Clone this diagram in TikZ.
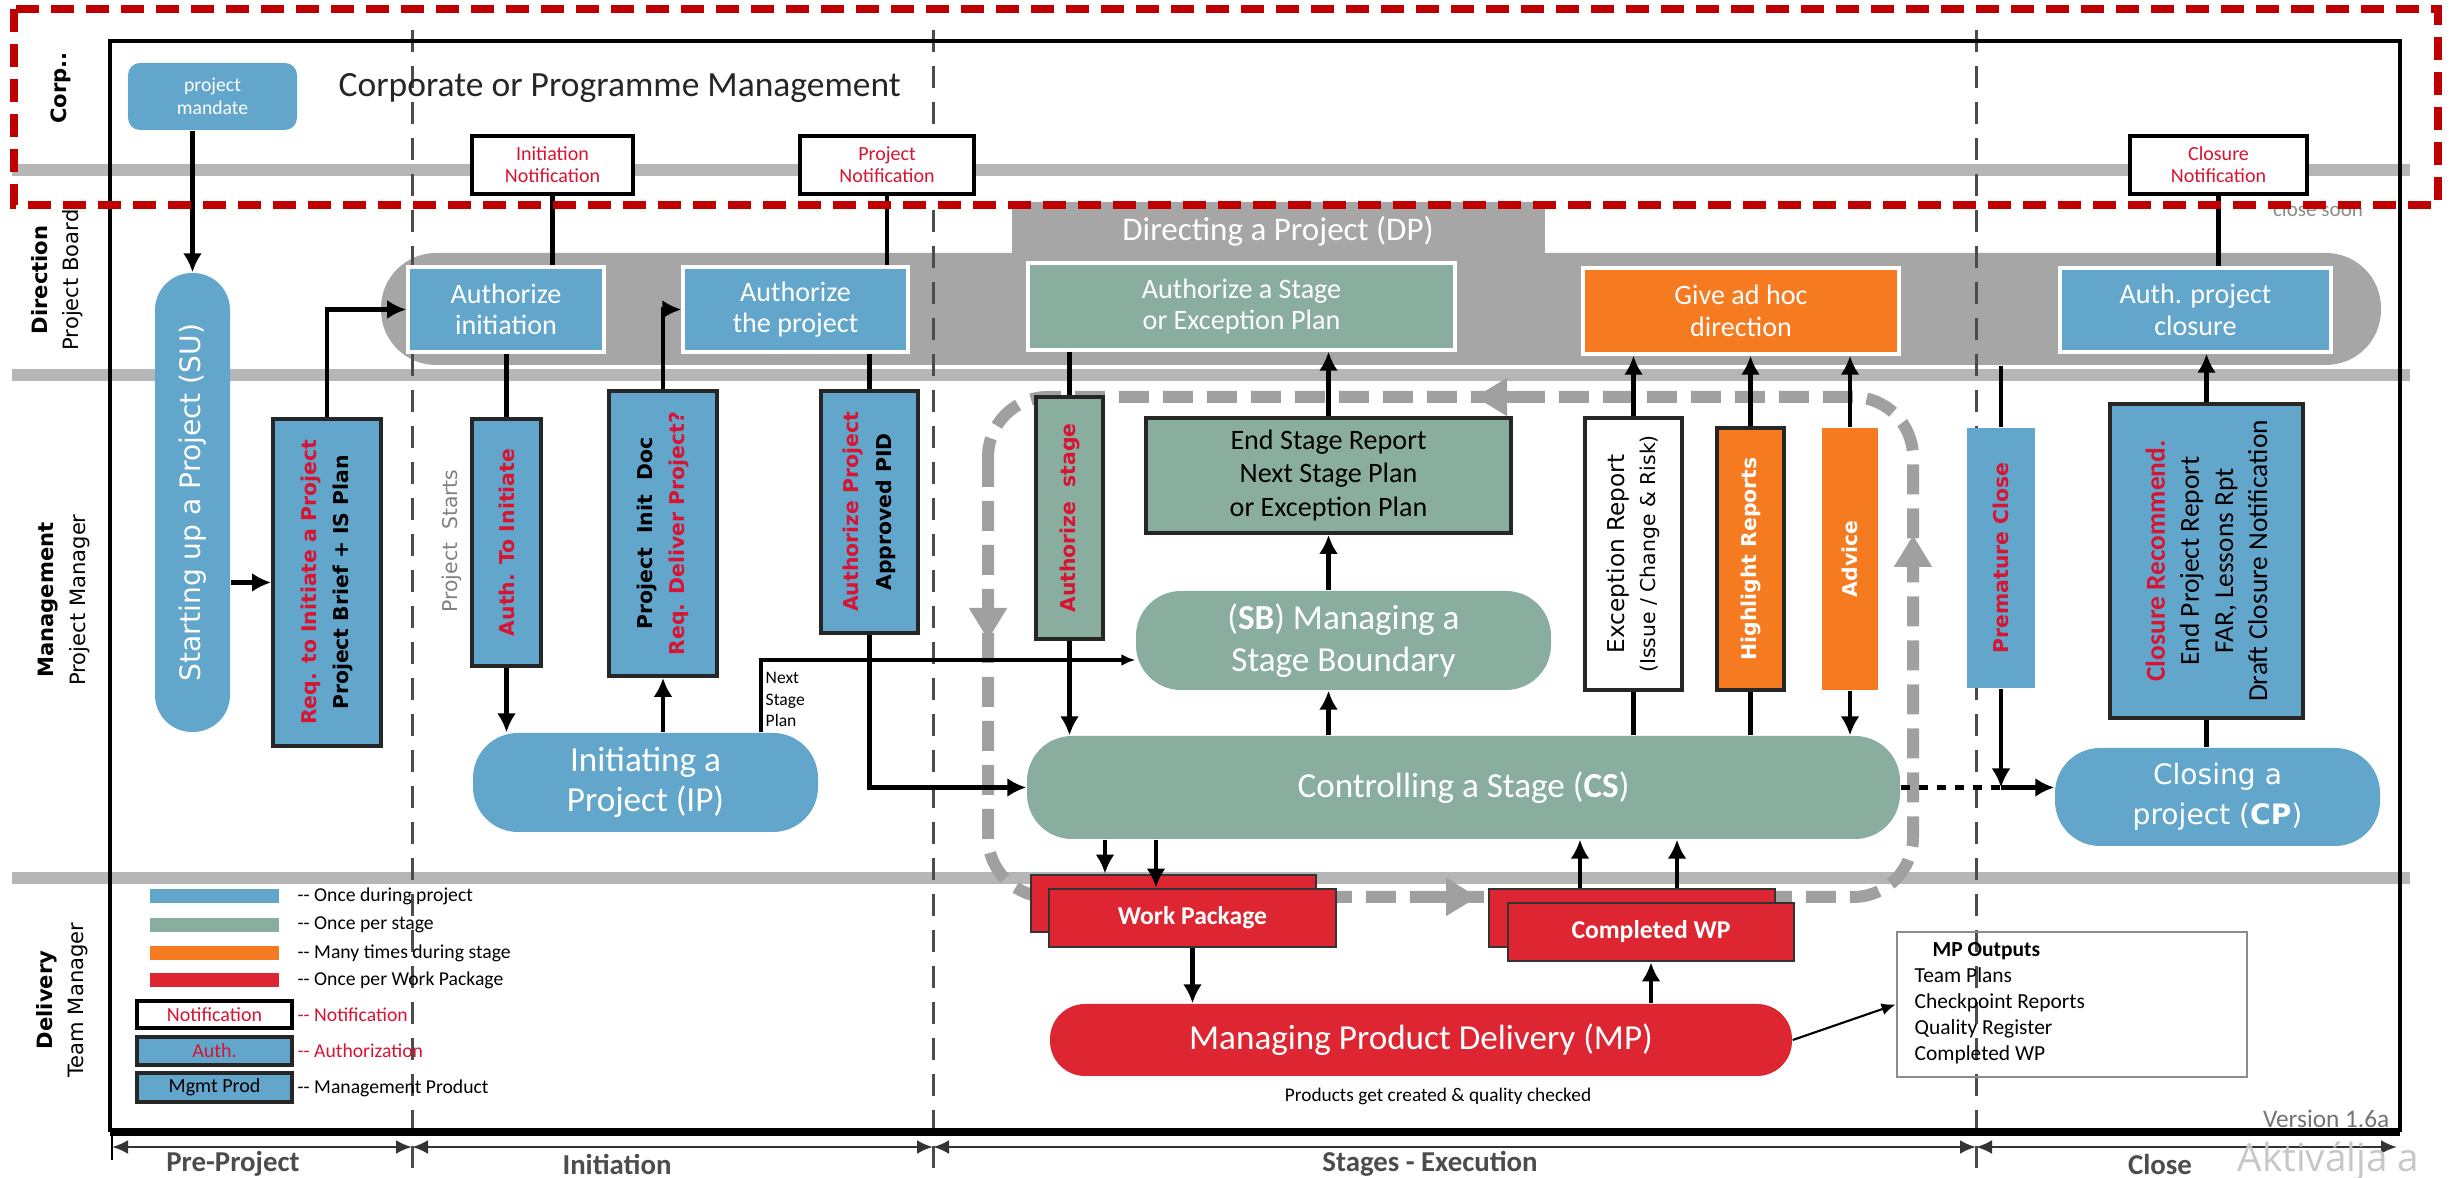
\documentclass[tikz,border=0pt]{standalone}
\usepackage{fontspec}
\setmainfont{Carlito}
\newfontfamily\verd{DejaVu Sans}
\newfontfamily\wmfont{Open Sans}
\usetikzlibrary{fit,arrows.meta}

\definecolor{pblue}{RGB}{98,166,204}
\definecolor{pgreen}{RGB}{137,174,160}
\definecolor{porange}{RGB}{245,122,32}
\definecolor{pred}{RGB}{222,38,50}
\definecolor{ptext}{RGB}{215,20,50}
\definecolor{pband}{RGB}{182,182,182}
\definecolor{pdp}{RGB}{166,166,166}
\definecolor{pframe}{RGB}{192,0,0}
\definecolor{ploop}{RGB}{160,160,160}

\tikzset{
  every node/.append style={inner sep=0pt},
  box/.style={draw=black!85, line width=1.1pt},
  dpbox/.style={draw=white, line width=1pt},
  notebox/.style={draw=black, line width=1pt, fill=white},
  pill/.style={rounded corners=4.5mm},
  wpbox/.style={fill=pred, draw=black!80, line width=0.8pt},
  dptext/.style={text=white, align=center, font=\fontsize{8}{9}\selectfont},
  notetext/.style={text=ptext, align=center, font=\fontsize{5.7}{6.3}\selectfont},
  pilltext/.style={text=white, align=center, font=\fontsize{10}{11.2}\selectfont},
  wptext/.style={text=white, font=\bfseries\fontsize{7.3}{8}\selectfont},
  vtext/.style={rotate=90, align=center, font=\verd\bfseries\fontsize{5.8}{9.3}\selectfont},
  flow/.style={line width=1.4pt, -{Latex[length=1.9mm,width=1.9mm]}},
  thinflow/.style={line width=0.6pt, -{Latex[length=1.4mm,width=1.2mm]}},
  link/.style={line width=1.4pt},
  lane/.style={pband, line width=1.2mm},
  phase/.style={black!70, line width=0.3mm, dash pattern=on 2.2mm off 1.4mm},
  loopline/.style={ploop, line width=1.2mm, dash pattern=on 3mm off 1.4mm},
  looptip/.style={ploop, line width=1.2mm, -{Triangle[length=3.2mm,width=3.6mm]}},
  dimline/.style={black!80, line width=0.8pt, {Latex[length=1.6mm,width=1.4mm]}-{Latex[length=1.6mm,width=1.4mm]}},
  lanelabel/.style={rotate=90, align=center, font=\verd\fontsize{6}{9}\selectfont},
  legtext/.style={anchor=west, font=\fontsize{5.6}{6.5}\selectfont},
  phaselabel/.style={text=black!70, font=\bfseries\fontsize{8.2}{9}\selectfont},
}

\begin{document}
\begin{tikzpicture}[x=0.1mm, y=-0.1mm]

	\useasboundingbox (0,0) rectangle (2451,1178);
	\clip (0,0) rectangle (2451,1178);

	% swimlanes and phases
	\node[text=black!45, font=\fontsize{6}{7}\selectfont] (soon) at (2318,209) {close soon};
	\foreach \y in {170,375,878} \draw[lane] (12,\y) -- (2410,\y);

	\node[fill=pdp, rounded corners=5.5mm, fit={(381,253) (2381,365)}] (dp) {};
	\node[fill=pdp, fit={(1012,202) (1545,262)}] (dptab) {};
	\node[text=white, font=\fontsize{9.4}{11}\selectfont] (dptitle) at (1278,231) {Directing a Project (DP)};

	\foreach \x in {412,933,1976} \draw[phase] (\x,30) -- (\x,1168);
	\draw[line width=1.2pt] (110,1132) -- (110,41) -- (2400,41) -- (2400,1132);
	\draw[line width=2pt] (110,1132) -- (2400,1132);

	% stage loop
	\draw[loopline, rounded corners=6mm] (988,397) rectangle (1913,897);
	\draw[looptip] (988,595) -- (988,640);
	\draw[looptip] (1520,397) -- (1475,397);
	\draw[looptip] (1913,580) -- (1913,535);
	\draw[looptip] (1430,897) -- (1478,897);

	% corporate
	\node[fill=pblue, rounded corners=1.2mm, fit={(128,63) (297,130)}] (mandate) {};
	\node[text=white, align=center, font=\fontsize{5.6}{6.5}\selectfont] (mandatetxt) at (mandate.center) {project\\mandate};
	\node[anchor=west, text=black!85, font=\fontsize{10.1}{12}\selectfont] (corp) at (338,88) {Corporate or Programme Management};
	\node[notebox, fit={(472,136) (633,194)}] (inot) {};
	\node[notetext] (inottxt) at (inot.center) {Initiation\\Notification};
	\node[notebox, fit={(800,136) (974,194)}] (pnot) {};
	\node[notetext] (pnottxt) at (pnot.center) {Project\\Notification};
	\node[notebox, fit={(2130,136) (2307,194)}] (cnot) {};
	\node[notetext] (cnottxt) at (cnot.center) {Closure\\Notification};

	% direction
	\node[dpbox, fill=pblue, fit={(408,267) (604,352)}] (authinit) {};
	\node[dptext] (authinittxt) at (authinit.center) {Authorize\\initiation};
	\node[dpbox, fill=pblue, fit={(683,267) (908,352)}] (authproj) {};
	\node[dptext] (authprojtxt) at (authproj.center) {Authorize\\the project};
	\node[dpbox, fill=pgreen, fit={(1028,263) (1455,350)}] (authstage) {};
	\node[dptext] (authstagetxt) at (authstage.center) {Authorize a Stage\\or Exception Plan};
	\node[dpbox, fill=porange, fit={(1583,268) (1899,354)}] (adhoc) {};
	\node[dptext] (adhoctxt) at (adhoc.center) {Give ad hoc\\direction};
	\node[dpbox, fill=pblue, fit={(2060,268) (2331,352)}] (authclose) {};
	\node[dptext] (authclosetxt) at (authclose.center) {Auth. project\\closure};

	% management
	\node[fill=pblue, rounded corners=3.7mm, fit={(155,273) (230,732)}] (su) {};
	\node[rotate=90, text=white, font=\verd\fontsize{8}{9}\selectfont] (sutxt) at (su.center) {Starting up a Project (SU)};
	\node[box, fill=pblue, fit={(273,419) (381,746)}] (req) {};
	\node[vtext] (reqtxt) at (req.center) {\textcolor{ptext}{Req. to Initiate a Project}\\Project Brief + IS Plan};
	\node[rotate=90, text=black!50, font=\verd\fontsize{5.8}{7}\selectfont] (starts) at (452,541) {Project~~Starts};
	\node[box, fill=pblue, fit={(472,419) (541,666)}] (ati) {};
	\node[vtext, text=ptext] (atitxt) at (ati.center) {Auth. To Initiate};
	\node[box, fill=pblue, fit={(609,391) (717,676)}] (initdoc) {};
	\node[vtext] (initdoctxt) at (initdoc.center) {Project~~Init~~Doc\\\textcolor{ptext}{Req. Deliver Project?}};
	\node[box, fill=pblue, fit={(821,391) (918,633)}] (apid) {};
	\node[vtext] (apidtxt) at (apid.center) {\textcolor{ptext}{Authorize Project}\\Approved PID};
	\node[pill, fill=pblue, fit={(473,733) (818,832)}] (ip) {};
	\node[pilltext] (iptxt) at (ip.center) {Initiating a\\Project (IP)};
	\node[anchor=north west, align=left, font=\fontsize{5}{6}\selectfont] (nsptxt) at (765,672) {Next\\Stage\\Plan};

	\node[box, fill=pgreen, fit={(1036,397) (1103,639)}] (astg) {};
	\node[vtext, text=ptext] (astgtxt) at (astg.center) {Authorize~~stage};
	\node[box, fill=pgreen, fit={(1146,418) (1511,533)}] (esr) {};
	\node[align=center, font=\fontsize{8}{9.4}\selectfont] (esrtxt) at (esr.center) {End Stage Report\\Next Stage Plan\\or Exception Plan};
	\node[pill, fill=pgreen, fit={(1136,591) (1551,690)}] (sb) {};
	\node[pilltext, font=\fontsize{10}{11.8}\selectfont] (sbtxt) at (sb.center) {(\textbf{SB}) Managing a\\Stage Boundary};
	\node[pill, fill=pgreen, fit={(1027,736) (1900,839)}] (cs) {};
	\node[pilltext] (cstxt) at (cs.center) {Controlling a Stage (\textbf{CS})};
	\node[box, fill=white, fit={(1585,418) (1682,690)}] (exc) {};
	\node[rotate=90, align=center, font=\verd\fontsize{6.6}{8.9}\selectfont] (exctxt) at (exc.center) {Exception Report\\{\fontsize{5.8}{8.9}\selectfont(Issue / Change \& Risk)}};
	\node[box, fill=porange, fit={(1717,428) (1784,690)}] (hlr) {};
	\node[vtext, text=white] (hlrtxt) at (hlr.center) {Highlight Reports};
	\node[fill=porange, fit={(1822,428) (1878,690)}] (adv) {};
	\node[vtext, text=white] (advtxt) at (adv.center) {Advice};

	\node[fill=pblue, fit={(1967,428) (2035,688)}] (prem) {};
	\node[vtext, text=ptext] (premtxt) at (prem.center) {Premature Close};
	\node[box, fill=pblue, fit={(2110,404) (2303,718)}] (clo) {};
	\node[rotate=90, align=center, font=\fontsize{7.8}{9.7}\selectfont] (clotxt) at (clo.center) {\textcolor{ptext}{\textbf{Closure Recommend.}}\\End Project Report\\FAR, Lessons Rpt\\Draft Closure Notification};
	\node[pill, fill=pblue, fit={(2055,748) (2380,846)}] (cp) {};
	\node[pilltext, font=\verd\fontsize{8}{11.5}\selectfont] (cptxt) at (cp.center) {Closing a\\project (\textbf{CP})};

	% delivery
	\node[wpbox, fit={(1031,875) (1316,932)}] (wpb) {};
	\node[wpbox, fit={(1049,889) (1336,947)}] (wp) {};
	\node[wptext] (wptxt) at (wp.center) {Work Package};
	\node[wpbox, fit={(1489,889) (1775,947)}] (cwpb) {};
	\node[wpbox, fit={(1508,903) (1794,961)}] (cwp) {};
	\node[wptext] (cwptxt) at (cwp.center) {Completed WP};
	\node[pill, fill=pred, rounded corners=3.5mm, fit={(1050,1004) (1792,1076)}] (mp) {};
	\node[pilltext] (mptxt) at (mp.center) {Managing Product Delivery (MP)};
	\node[font=\fontsize{5.5}{6.5}\selectfont] (mpnote) at (1438,1096) {Products get created \& quality checked};
	\node[draw=black!45, line width=0.8pt, fit={(1897,932) (2247,1077)}] (mpout) {};
	\node[anchor=north west, align=left, font=\fontsize{6.1}{7.4}\selectfont] (mpouttxt) at (1914,942) {\hspace*{1.8mm}\textbf{MP Outputs}\\Team Plans\\Checkpoint Reports\\Quality Register\\Completed WP};

	% connectors
	\draw[flow] (su.north |- mandate.south) -- (su.north);
	\draw[flow] (su.east |- req.west) -- (req.west);
	\draw[flow] (req.north) |- (authinit.west);
	\draw[link] (inot.south) -- (inot.south |- authinit.north);
	\draw[link] (pnot.south) -- (pnot.south |- authproj.north);
	\draw[link] (authinit.south -| ati.north) -- (ati.north);
	\draw[flow] (ati.south) -- (ati.south |- ip.north);
	\draw[flow] (initdoc.south |- ip.north) -- (initdoc.south);
	\draw[flow] (initdoc.north) |- (authproj.west);
	\draw[link] (authproj.south -| apid.north) -- (apid.north);
	\draw[flow] (apid.south) |- (cs.west);
	\coordinate (nsp) at (761,660);
	\draw[thinflow, line width=0.9pt] (nsp |- ip.north) -- (nsp) -- (nsp -| sb.west);

	\draw[link] (authstage.south -| astg.north) -- (astg.north);
	\draw[flow] (astg.south) -- (astg.south |- cs.north);
	\draw[flow] (esr.north) -- (esr.north |- authstage.south);
	\draw[flow] (esr.south |- sb.north) -- (esr.south);
	\draw[flow] (esr.south |- cs.north) -- (esr.south |- sb.south);
	\draw[flow] (exc.north) -- (exc.north |- adhoc.south);
	\draw[link] (exc.south |- cs.north) -- (exc.south);
	\draw[flow] (hlr.north) -- (hlr.north |- adhoc.south);
	\draw[link] (hlr.south |- cs.north) -- (hlr.south);
	\draw[flow] (adv.north) -- (adv.north |- adhoc.south);
	\draw[flow] (adv.south) -- (adv.south |- cs.north);

	\draw[link] (prem.north |- dp.south) -- (prem.north);
	\coordinate (pj) at (prem.south |- cs.east);
	\draw[flow] (prem.south) -- (pj);
	\draw[line width=1.4pt, dash pattern=on 0.9mm off 0.9mm] (cs.east) -- (pj);
	\draw[flow] (pj) -- (pj -| cp.west);
	\draw[flow] (clo.north) -- (clo.north |- authclose.south);
	\draw[link] (clo.south |- cp.north) -- (clo.south);
	\draw[link] (cnot.south) -- (cnot.south |- authclose.north);

	\coordinate (wa) at (1105,0);
	\coordinate (wb) at (1156,0);
	\coordinate (ca) at (1580,0);
	\coordinate (cb) at (1677,0);
	\draw[flow] (cs.south -| wa) -- (wpb.north -| wa);
	\draw[flow] (cs.south -| wb) -- (wp.north -| wb);
	\draw[flow] (cwpb.north -| ca) -- (cs.south -| ca);
	\draw[flow] (cwpb.north -| cb) -- (cs.south -| cb);
	\draw[flow] (wp.south) -- (wp.south |- mp.north);
	\draw[flow] (cwp.south |- mp.north) -- (cwp.south);
	\draw[thinflow] (mp.east) -- (mpout.west);

	% legend
	\foreach \c/\y/\t [count=\i] in {pblue/896/Once during project, pgreen/925/Once per stage, porange/953/Many times during stage, pred/980/Once per Work Package} {
		\fill[\c] (150,\y-7) rectangle (279,\y+7);
		\node[legtext] (leg\i) at (297,\y) {-{}- \t};
	}
	\node[notebox, fit={(137,1001) (292,1028)}] (lnot) {};
	\node[notetext] (lnottxt) at (lnot.center) {Notification};
	\node[legtext, text=ptext] (lnott) at (297,1015) {-{}- Notification};
	\node[box, fill=pblue, fit={(137,1037) (292,1065)}] (lauth) {};
	\node[notetext] (lauthtxt) at (lauth.center) {Auth.};
	\node[legtext, text=ptext] (lautht) at (297,1051) {-{}- Authorization};
	\node[box, fill=pblue, fit={(137,1073) (292,1102)}] (lmgmt) {};
	\node[notetext, text=black] (lmgmttxt) at (lmgmt.center) {Mgmt Prod};
	\node[legtext] (lmgmtt) at (297,1088) {-{}- Management Product};

	% lane and phase labels
	\node[lanelabel] (lcorp) at (61,88) {\bfseries Corp..};
	\node[lanelabel] (ldir) at (57,280) {\bfseries Direction\\Project Board};
	\node[lanelabel] (lman) at (64,600) {\bfseries Management\\Project Manager};
	\node[lanelabel] (ldel) at (62,1000) {\bfseries Delivery\\Team Manager};

	\coordinate (b0) at (112,1147);
	\coordinate (b1) at (412,1147);
	\coordinate (b2) at (933,1147);
	\coordinate (b3) at (1976,1147);
	\coordinate (b4) at (2397,1147);
	\foreach \a/\b in {b0/b1,b1/b2,b2/b3,b3/b4} \draw[dimline] (\a) -- (\b);
	\draw[line width=0.8pt] (112,1136) -- (112,1160);
	\node[phaselabel] (lpre) at (233,1164) {Pre-Project};
	\node[phaselabel] (lini) at (617,1164) {Initiation};
	\node[phaselabel] (lexe) at (1430,1164) {Stages - Execution};
	\node[phaselabel] (lclo) at (2160,1164) {Close};

	\node[anchor=east, text=black!55, font=\fontsize{7.2}{8}\selectfont] (ver) at (2390,1119) {Version 1.6a};
	\node[anchor=base west, text=black!22, font=\wmfont\fontsize{11}{13}\selectfont] (wm) at (2237,1172) {Aktiválja a};

	\draw[pframe, line width=0.75mm, dash pattern=on 2.3mm off 1.2mm] (14,9) rectangle (2438,205);

\end{tikzpicture}
\end{document}
